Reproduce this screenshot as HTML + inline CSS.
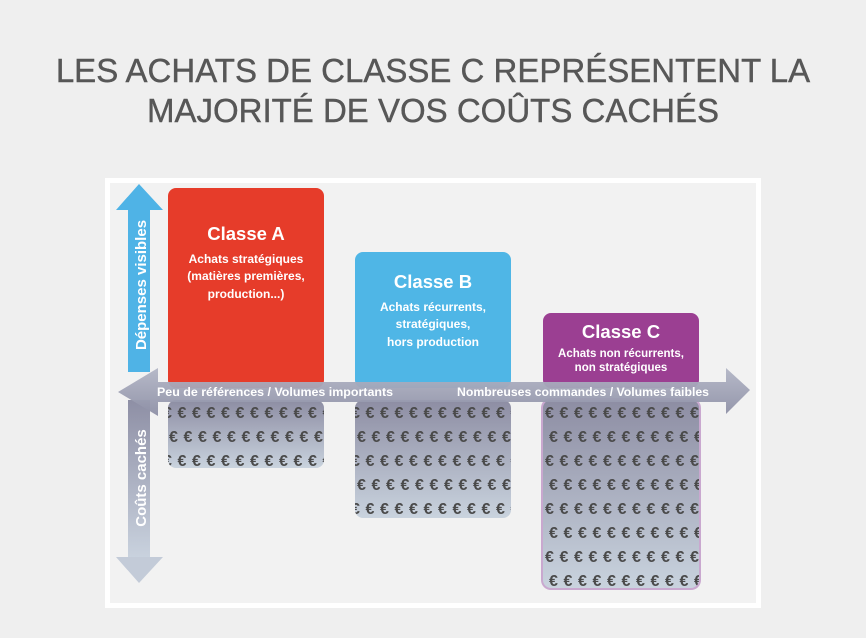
<!DOCTYPE html>
<html><head><meta charset="utf-8"><style>
html,body{margin:0;padding:0;background:#efefef;}
body{width:866px;height:633px;overflow:hidden;font-family:"Liberation Sans",sans-serif;}
</style></head><body>
<svg width="866" height="633" xmlns="http://www.w3.org/2000/svg" font-family="Liberation Sans, sans-serif">
<defs>
<linearGradient id="eg" x1="0" y1="0" x2="0" y2="1"><stop offset="0" stop-color="#8d8da3"/><stop offset="1" stop-color="#c9d3de"/></linearGradient>
<linearGradient id="hg" x1="0" y1="0" x2="0" y2="1"><stop offset="0" stop-color="#b3b6c6"/><stop offset="1" stop-color="#8e90a6"/></linearGradient>
<linearGradient id="vg" x1="0" y1="0" x2="0" y2="1"><stop offset="0" stop-color="#8e8fa5"/><stop offset="1" stop-color="#c9d2de"/></linearGradient>
<clipPath id="ca"><rect x="168" y="400" width="156" height="68" rx="8"/></clipPath>
<clipPath id="cb"><rect x="355" y="400" width="156" height="118" rx="8"/></clipPath>
<clipPath id="cc"><rect x="543" y="400" width="156" height="188" rx="8"/></clipPath>
</defs>
<text x="433" y="82" text-anchor="middle" font-size="33" fill="#575757" stroke="#575757" stroke-width="0.4">LES ACHATS DE CLASSE C REPRÉSENTENT LA</text>
<text x="433" y="122" text-anchor="middle" font-size="33" fill="#575757" stroke="#575757" stroke-width="0.4">MAJORITÉ DE VOS COÛTS CACHÉS</text>
<rect x="105" y="178" width="656" height="430" fill="#fff"/>
<rect x="110" y="183" width="646" height="420" fill="#f2f2f2"/>
<polygon points="139,184 163,210 150,210 150,372 128,372 128,210 116,210" fill="#4fb3e6"/>
<text transform="translate(146,285) rotate(-90)" text-anchor="middle" font-size="15" font-weight="bold" fill="#fff">Dépenses visibles</text>
<rect x="128" y="400" width="22" height="158" fill="url(#vg)"/>
<polygon points="116,557 163,557 139,583" fill="#c3cbd8"/>
<text transform="translate(146,478) rotate(-90)" text-anchor="middle" font-size="15" font-weight="bold" fill="#fff">Coûts cachés</text>
<rect x="168" y="188" width="156" height="200" rx="8" fill="#e63c2a"/>
<text x="246" y="240" text-anchor="middle" font-size="18.5" font-weight="bold" fill="#fff">Classe A</text>
<text x="246" y="263" text-anchor="middle" font-size="12" font-weight="bold" fill="#fff">Achats stratégiques</text>
<text x="246" y="280" text-anchor="middle" font-size="12" font-weight="bold" fill="#fff">(matières premières,</text>
<text x="246" y="298" text-anchor="middle" font-size="12" font-weight="bold" fill="#fff">production...)</text>
<rect x="355" y="252" width="156" height="136" rx="8" fill="#4fb6e6"/>
<text x="433" y="288" text-anchor="middle" font-size="18.5" font-weight="bold" fill="#fff">Classe B</text>
<text x="433" y="311" text-anchor="middle" font-size="12" font-weight="bold" fill="#fff">Achats récurrents,</text>
<text x="433" y="328" text-anchor="middle" font-size="12" font-weight="bold" fill="#fff">stratégiques,</text>
<text x="433" y="346" text-anchor="middle" font-size="12" font-weight="bold" fill="#fff">hors production</text>
<rect x="543" y="313" width="156" height="75" rx="8" fill="#9b3f92"/>
<text x="621" y="338" text-anchor="middle" font-size="18.5" font-weight="bold" fill="#fff">Classe C</text>
<text x="621" y="357" text-anchor="middle" font-size="11.5" font-weight="bold" fill="#fff">Achats non récurrents,</text>
<text x="621" y="371" text-anchor="middle" font-size="11.5" font-weight="bold" fill="#fff">non  stratégiques</text>
<rect x="168" y="400" width="156" height="68" rx="8" fill="url(#eg)"/>
<rect x="355" y="400" width="156" height="118" rx="8" fill="url(#eg)"/>
<rect x="541" y="398" width="160" height="192" rx="10" fill="#c9a8cf"/>
<rect x="543" y="400" width="156" height="188" rx="8" fill="url(#eg)"/>
<g font-size="16" font-weight="bold" fill="#4a4a4a" letter-spacing="5.6">
<g clip-path="url(#ca)">
<text x="163" y="418">€€€€€€€€€€€€</text>
<text x="169" y="442">€€€€€€€€€€€€</text>
<text x="163" y="466">€€€€€€€€€€€€</text>
</g>
<g clip-path="url(#cb)">
<text x="351" y="418">€€€€€€€€€€€€</text>
<text x="357" y="442">€€€€€€€€€€€€</text>
<text x="351" y="466">€€€€€€€€€€€€</text>
<text x="357" y="490">€€€€€€€€€€€€</text>
<text x="351" y="514">€€€€€€€€€€€€</text>
</g>
<g clip-path="url(#cc)">
<text x="545" y="418">€€€€€€€€€€€€</text>
<text x="549" y="442">€€€€€€€€€€€€</text>
<text x="545" y="466">€€€€€€€€€€€€</text>
<text x="549" y="490">€€€€€€€€€€€€</text>
<text x="545" y="514">€€€€€€€€€€€€</text>
<text x="549" y="538">€€€€€€€€€€€€</text>
<text x="545" y="562">€€€€€€€€€€€€</text>
<text x="549" y="586">€€€€€€€€€€€€</text>
</g>
</g>
<polygon points="118,392 158,368 158,382 726,382 726,368 750,390 726,414 726,402 158,402 158,416" fill="url(#hg)" opacity="0.95"/>
<text x="157" y="396" font-size="12" font-weight="bold" fill="#fff" textLength="236" lengthAdjust="spacingAndGlyphs">Peu de références / Volumes importants</text>
<text x="457" y="396" font-size="12" font-weight="bold" fill="#fff" textLength="252" lengthAdjust="spacingAndGlyphs">Nombreuses commandes / Volumes faibles</text>
</svg>
</body></html>
